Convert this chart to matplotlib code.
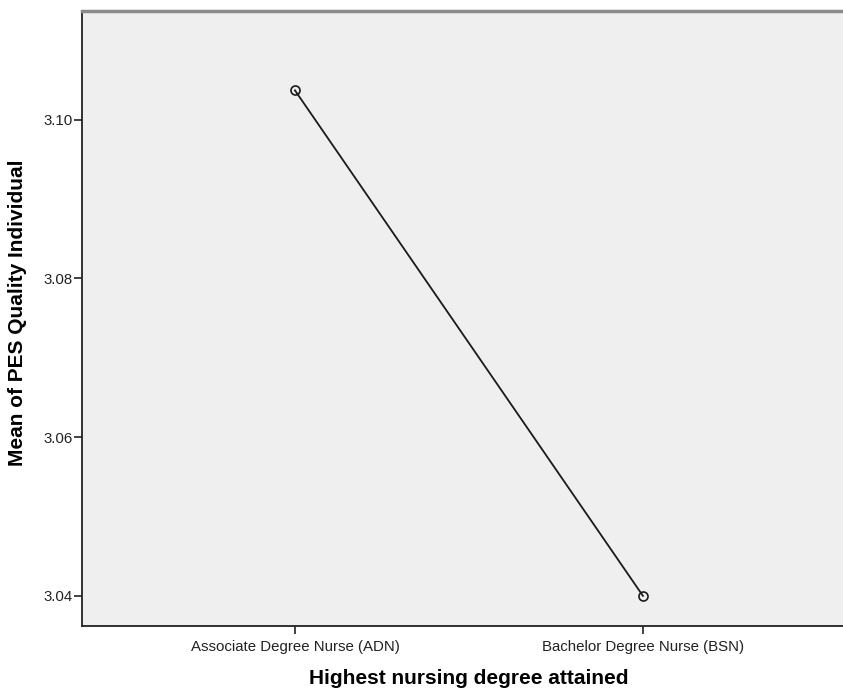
import matplotlib
matplotlib.use("Agg")
import matplotlib.pyplot as plt

# Means plot: PES quality by highest nursing degree
degrees = ["Associate Degree Nurse (ADN)", "Bachelor Degree Nurse (BSN)"]
means = [3.1037, 3.0400]
yticks = [3.04, 3.06, 3.08, 3.10]

plt.rcParams['font.family'] = ['Liberation Sans', 'DejaVu Sans']

W, H = 843, 689
fig = plt.figure(figsize=(W / 100, H / 100), dpi=100)
ax = fig.add_axes([82 / W, (H - 626) / H, 1 - 82 / W, (626 - 11) / H])
ax.set_facecolor("#efefef")

xs = list(range(len(degrees)))
ax.plot(xs, means, color="#1a1a1a", lw=1.3, marker="o", ms=6.5,
        mfc="none", mec="#1a1a1a", mew=1.2)

ax.set_xlim(-0.612, 1.575)
ax.set_ylim(3.0362, 3.1137)
ax.set_xticks(xs)
ax.set_xticklabels(degrees, fontsize=10.8)
ax.set_yticks(yticks)
ax.set_yticklabels(["%.2f" % v for v in yticks], fontsize=10.8)
ax.tick_params(axis="both", direction="out", length=6, width=1.2, colors="#222222")
ax.tick_params(axis="x", pad=4)
ax.tick_params(axis="y", pad=1)

for s in ("left", "bottom"):
    ax.spines[s].set_color("#222222")
    ax.spines[s].set_linewidth(1.3)
ax.spines["top"].set_color("#8a8a8a")
ax.spines["top"].set_linewidth(2.5)
ax.spines["right"].set_visible(False)

fig.text(469 / W, 1 - 679 / H, "Highest nursing degree attained", ha="center",
         va="center", fontsize=15, fontweight="bold")
fig.text(18 / W, 1 - 313 / H, "Mean of PES Quality Individual", ha="center",
         va="center", rotation=90, fontsize=15, fontweight="bold")

fig.savefig("out.png", dpi=100)
